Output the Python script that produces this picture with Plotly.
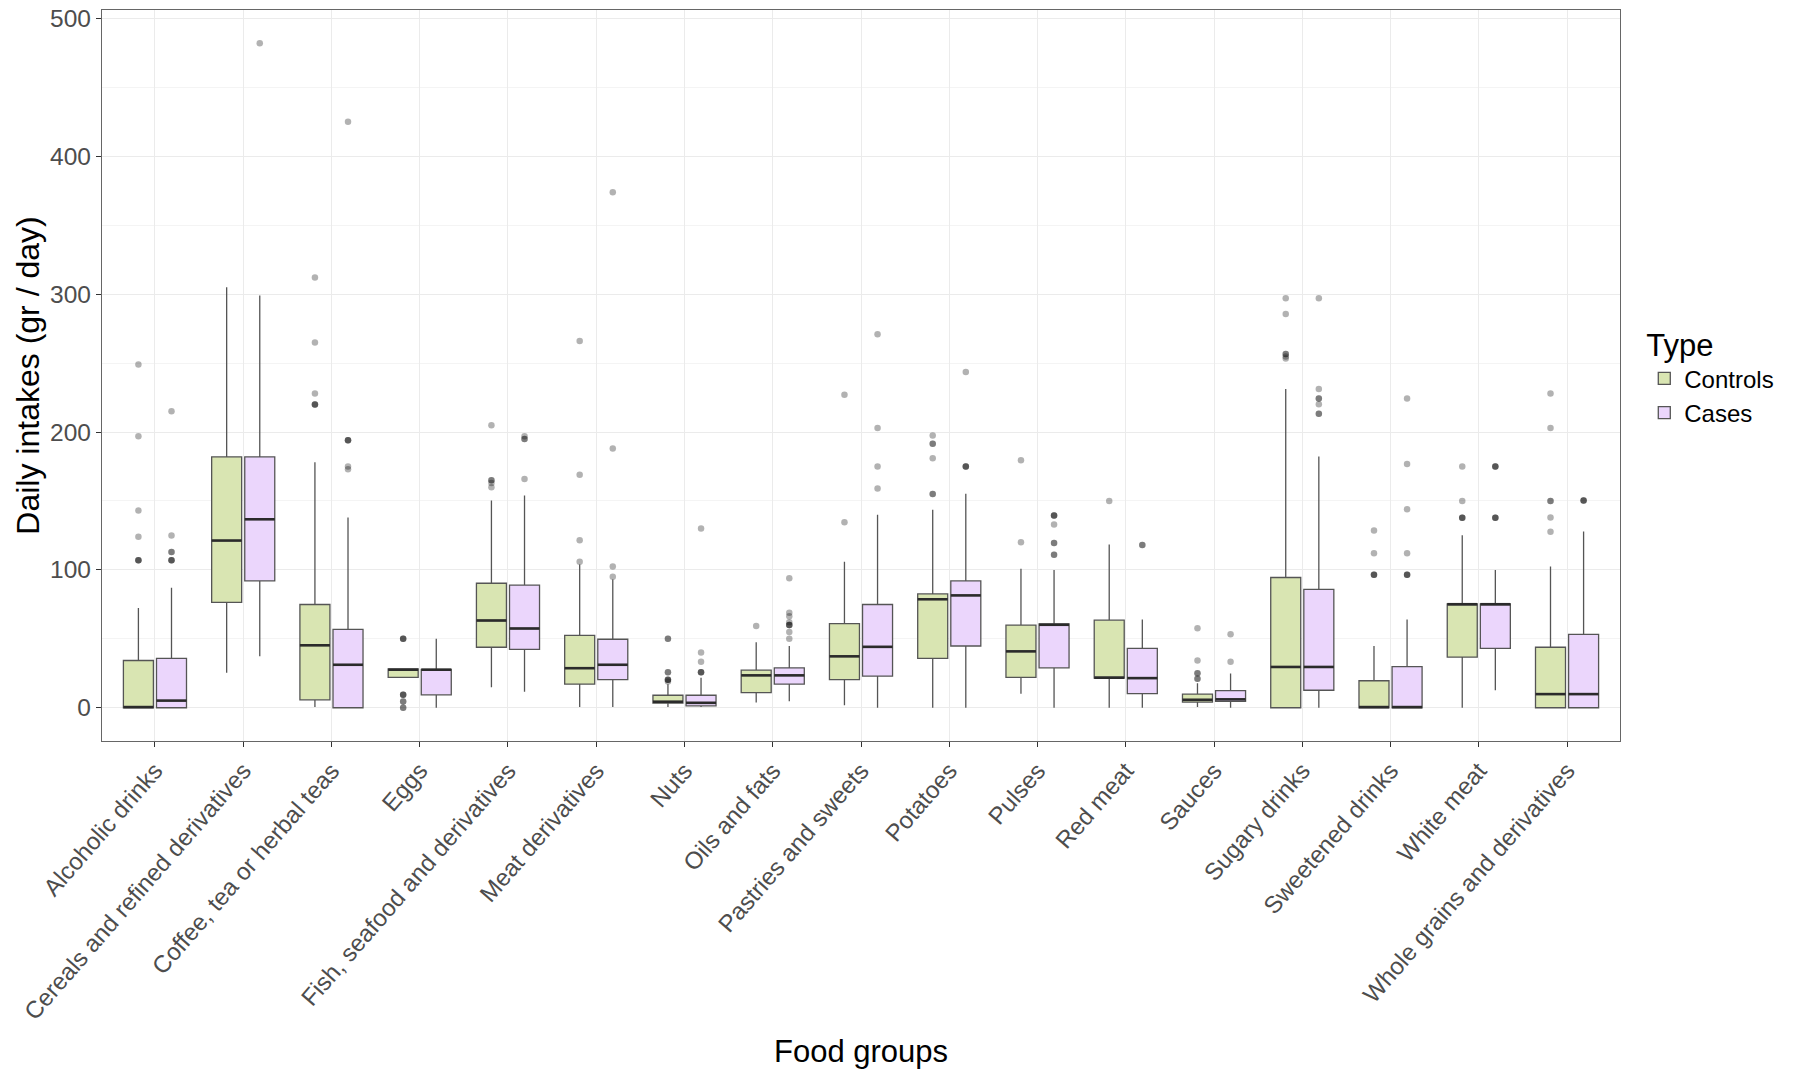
import plotly.graph_objects as go

categories = ["Alcoholic drinks", "Cereals and refined derivatives", "Coffee, tea or herbal teas",
              "Eggs", "Fish, seafood and derivatives", "Meat derivatives", "Nuts", "Oils and fats",
              "Pastries and sweets", "Potatoes", "Pulses", "Red meat", "Sauces", "Sugary drinks",
              "Sweetened drinks", "White meat", "Whole grains and derivatives"]

ctrl_q1 = [0, 76.5, 5.8, 22.1, 43.9, 17.1, 3.3, 11, 20.4, 35.9, 22.1, 21.5, 4.1, 0, 0, 36.7, 0]
ctrl_med = [0.5, 121.3, 45.3, 27.6, 63.3, 28.7, 4.4, 23.5, 37.3, 78.7, 40.9, 21.8, 5.8, 29.6, 0.5, 75.1, 9.9]
ctrl_q3 = [34.3, 182, 74.9, 28.2, 90.3, 52.5, 9.1, 27.3, 61, 82.6, 60, 63.5, 9.9, 94.5, 19.6, 75.4, 43.9]
ctrl_lo = [0, 25.4, 0.5, 22.1, 14.9, 0.5, 0.5, 3.9, 1.9, 0, 10.2, 0, 0.5, 0, 0, 0, 0]
ctrl_hi = [72.4, 305, 178, 28.2, 150.3, 104, 17.1, 47.5, 106, 143.6, 100.8, 118.5, 17.7, 231.2, 44.8, 125.1, 102.5]

case_q1 = [0, 92, 0, 9.4, 42.3, 20.4, 1.4, 17.1, 22.9, 44.8, 29, 10.2, 4.7, 12.7, 0, 43.1, 0]
case_med = [5.2, 136.7, 31.2, 27.6, 57.5, 31.2, 3.6, 23.5, 44.2, 81.5, 60.2, 21.5, 6.1, 29.6, 0.5, 75.1, 9.9]
case_q3 = [35.9, 182, 56.9, 27.8, 89, 49.7, 9.1, 29, 74.9, 92, 60.8, 43.1, 12.4, 85.9, 29.8, 75.4, 53.3]
case_lo = [0, 37.3, 0, 0, 11.6, 0.5, 0.5, 4.7, 0, 0, 0, 0, 0, 0, 0, 12.7, 0]
case_hi = [87, 299, 138, 50, 153.9, 93, 21.8, 44.8, 140, 155.2, 100, 64, 24.9, 182.3, 64, 100, 127.9]

# outliers (repeated values = overlapping observations)
ctrl_out = [
    [249, 197, 143, 124, 107, 107, 107],
    [],
    [312, 265, 228, 220, 220, 220],
    [50, 50, 50, 9.4, 9.4, 9.4, 4.5, 4.5, 0, 0],
    [205, 165, 165, 163, 160],
    [266, 169, 121.5, 106],
    [50, 50, 25.7, 25.7, 20.4, 20.4, 20.4, 19],
    [59.4],
    [227, 134.5],
    [197.5, 191.5, 191.5, 181, 155, 155],
    [179.6, 120],
    [150],
    [57.7, 34.3, 25, 25, 21, 21],
    [297, 285.6, 256.6, 256.6, 254.7, 253.3],
    [128.5, 112, 96.4, 96.4, 96.4],
    [175, 150, 137.8, 137.8, 137.8],
    [228, 203, 150, 150, 138, 127.6],
]
case_out = [
    [215, 125, 113, 113, 107, 107, 107],
    [482],
    [425, 194, 194, 194, 175, 173],
    [],
    [197, 195, 195, 166],
    [374, 188, 102.5, 95],
    [130, 40, 33.4, 25.7, 25.7, 25.7],
    [94, 69, 66.3, 62, 60, 60, 60, 55, 50],
    [271, 203, 175, 159],
    [243.5, 175, 175, 175],
    [139.5, 139.5, 139.5, 133, 119.6, 119.6, 111, 111],
    [118, 118],
    [53.3, 33.4],
    [297, 231.2, 224.3, 224.3, 220.2, 213.3, 213.3],
    [224.3, 176.8, 144, 112, 96.4, 96.4, 96.4],
    [175, 175, 175, 137.8, 137.8, 137.8],
    [150.3, 150.3, 150.3],
]

DODGE = 0.1875
BOXW = 0.34
idx = list(range(1, len(categories) + 1))

groups = [
    ("Controls", "#d9e5b2", -DODGE, ctrl_q1, ctrl_med, ctrl_q3, ctrl_lo, ctrl_hi, ctrl_out),
    ("Cases", "#ebd6fc", DODGE, case_q1, case_med, case_q3, case_lo, case_hi, case_out),
]

fig = go.Figure()
for name, fill, off, q1, med, q3, lo, hi, outs in groups:
    xs = [i + off for i in idx]
    fig.add_trace(go.Box(
        name=name, x=xs, q1=q1, median=med, q3=q3, lowerfence=lo, upperfence=hi,
        width=BOXW, fillcolor=fill, line=dict(color="#555555", width=1.3),
        whiskerwidth=0, boxpoints=False, hoverinfo="skip"))
for name, fill, off, q1, med, q3, lo, hi, outs in groups:
    xs = [i + off for i in idx]
    # thicker median lines
    mx, my = [], []
    for x, m in zip(xs, med):
        mx += [x - BOXW / 2, x + BOXW / 2, None]
        my += [m, m, None]
    fig.add_trace(go.Scatter(x=mx, y=my, mode="lines", line=dict(color="#2b2b2b", width=2.6),
                             showlegend=False, hoverinfo="skip"))
    ox, oy = [], []
    for x, vals in zip(xs, outs):
        ox += [x] * len(vals)
        oy += vals
    fig.add_trace(go.Scatter(x=ox, y=oy, mode="markers", showlegend=False,
                             marker=dict(color="rgba(0,0,0,0.3)", size=6.5, line=dict(width=0))))

font = "Arial, Liberation Sans, sans-serif"
fig.update_layout(
    width=1796, height=1071,
    margin=dict(l=102, r=176, t=10, b=330),
    paper_bgcolor="white", plot_bgcolor="white",
    font=dict(family=font, color="black"),
    showlegend=True,
    legend=dict(x=1.016, y=0.5, xanchor="left", yanchor="middle",
                title=dict(text="Type", font=dict(size=31, color="black")),
                font=dict(size=24, color="black"), tracegroupgap=0),
)
fig.update_xaxes(
    range=[0.4, len(categories) + 0.6], tickmode="array", tickvals=idx, ticktext=categories,
    tickangle=-49, tickfont=dict(size=24, color="#4d4d4d"), automargin=False,
    ticks="outside", ticklen=5, tickcolor="#333333",
    showgrid=True, gridcolor="#ebebeb", gridwidth=1, zeroline=False,
    showline=True, mirror=True, linecolor="#666666", linewidth=1.3,
    title=dict(text="Food groups", font=dict(size=31, color="black"), standoff=16),
)
fig.update_yaxes(
    range=[-24.1, 506.1], tickvals=[0, 100, 200, 300, 400, 500],
    tickfont=dict(size=24.5, color="#4d4d4d"), automargin=False,
    ticks="outside", ticklen=5, tickcolor="#333333",
    showgrid=True, gridcolor="#ebebeb", gridwidth=1, zeroline=False,
    minor=dict(tickvals=[50, 150, 250, 350, 450], showgrid=True, gridcolor="#f4f4f4", ticks=""),
    showline=True, mirror=True, linecolor="#666666", linewidth=1.3,
    title=dict(text="Daily intakes (gr / day)", font=dict(size=32, color="black"), standoff=0),
)

fig.write_html("out.html")
